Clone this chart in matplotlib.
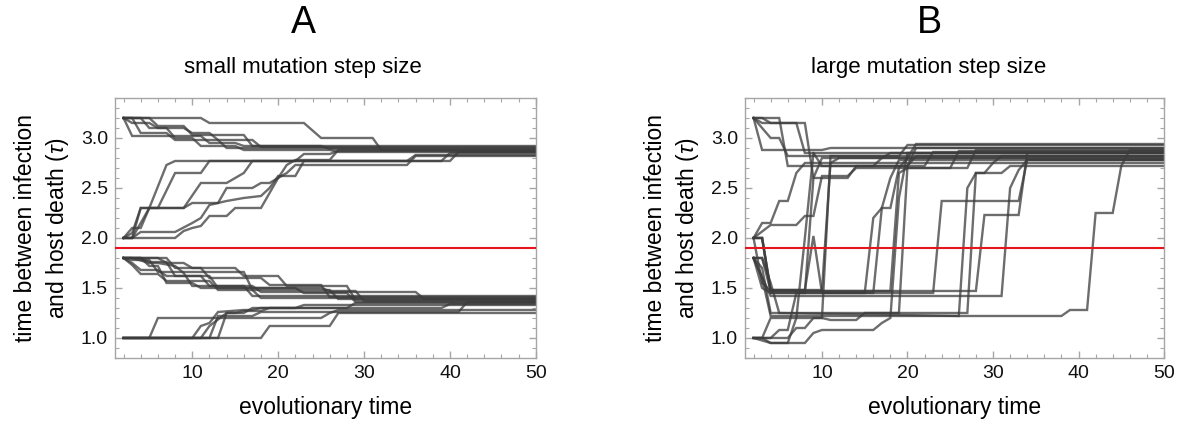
#! /usr/bin/env python
# -*- coding: utf-8 -*-
"""
Evolution of the time between infection and host death (tau)
for small and large mutation step sizes.
"""
# Importing Modules
import matplotlib
matplotlib.use('Agg')
import matplotlib.pyplot as plt
from matplotlib.ticker import MultipleLocator

## Data (time points, tau values)

# Panel A - small mutation step size
# runs starting at tau = 3.2
a_top_t = [[2, 11, 12, 23, 25, 31, 32, 50],
           [2, 3, 4, 7, 8, 13, 14, 50],
           [2, 3, 5, 6, 9, 10, 12, 13, 17, 18, 50],
           [2, 4, 5, 7, 8, 10, 11, 15, 16, 26, 27, 50],
           [2, 3, 11, 12, 15, 16, 25, 26, 50],
           [2, 5, 6, 9, 10, 16, 17, 50]]
a_top_y = [[3.2, 3.2, 3.15, 3.15, 3.0, 3.0, 2.88, 2.88],
           [3.2, 3.2, 3.05, 3.05, 2.98, 2.98, 2.9, 2.9],
           [3.2, 3.15, 3.15, 3.1, 3.1, 3.05, 3.05, 2.98, 2.98, 2.91, 2.91],
           [3.2, 3.2, 3.1, 3.1, 3.0, 3.0, 2.92, 2.92, 2.88, 2.88, 2.86, 2.86],
           [3.2, 3.02, 3.02, 2.95, 2.95, 2.92, 2.92, 2.89, 2.89],
           [3.2, 3.2, 3.12, 3.12, 3.03, 3.03, 2.92, 2.92]]
# runs starting at tau = 2.0
a_mid_t = [[2, 3, 4, 5, 7, 8, 22, 23, 26, 27, 50],
           [2, 3, 4, 6, 8, 11, 12, 35, 36, 50],
           [2, 3, 4, 9, 11, 14, 15, 16, 17, 40, 41, 50],
           [2, 8, 9, 10, 11, 12, 14, 15, 18, 19, 20, 21, 22, 35, 36, 50],
           [2, 3, 4, 8, 10, 11, 12, 14, 16, 18, 19, 20, 22, 23, 39, 40, 50],
           [2, 3, 5, 9, 10, 13, 14, 17, 18, 19, 20, 21, 22, 26, 27, 50]]
a_mid_y = [[2.0, 2.1, 2.1, 2.3, 2.73, 2.77, 2.77, 2.84, 2.84, 2.87, 2.87],
           [2.0, 2.0, 2.3, 2.3, 2.65, 2.65, 2.77, 2.77, 2.83, 2.83],
           [2.0, 2.05, 2.3, 2.3, 2.55, 2.55, 2.6, 2.65, 2.77, 2.77, 2.86, 2.86],
           [2.0, 2.0, 2.07, 2.1, 2.12, 2.22, 2.22, 2.3, 2.3, 2.45, 2.6, 2.65,
            2.73, 2.73, 2.82, 2.82],
           [2.0, 2.0, 2.06, 2.06, 2.15, 2.2, 2.33, 2.37, 2.4, 2.42, 2.5, 2.62,
            2.62, 2.77, 2.77, 2.85, 2.85],
           [2.0, 2.0, 2.3, 2.3, 2.35, 2.35, 2.5, 2.5, 2.55, 2.55, 2.6, 2.73,
            2.78, 2.78, 2.88, 2.88]]
# runs starting at tau = 1.8
a_low_t = [[2, 6, 7, 9, 10, 15, 16, 20, 21, 28, 29, 50],
           [2, 3, 4, 6, 7, 11, 12, 17, 18, 36, 37, 50],
           [2, 3, 5, 6, 8, 9, 10, 16, 17, 50],
           [2, 4, 5, 7, 8, 12, 13, 25, 26, 29, 30, 50],
           [2, 3, 4, 6, 7, 12, 13, 17, 18, 50],
           [2, 4, 5, 6, 7, 10, 11, 22, 23, 28, 29, 50],
           [2, 7, 8, 11, 12, 18, 19, 25, 26, 50],
           [2, 3, 5, 6, 16, 17, 26, 27, 50]]
a_low_y = [[1.8, 1.8, 1.75, 1.75, 1.7, 1.7, 1.62, 1.62, 1.52, 1.52, 1.38, 1.38],
           [1.8, 1.75, 1.68, 1.68, 1.62, 1.62, 1.52, 1.52, 1.46, 1.46, 1.39, 1.39],
           [1.8, 1.8, 1.75, 1.75, 1.72, 1.65, 1.52, 1.52, 1.42, 1.42],
           [1.8, 1.8, 1.76, 1.76, 1.62, 1.62, 1.5, 1.5, 1.47, 1.47, 1.37, 1.37],
           [1.8, 1.73, 1.64, 1.64, 1.57, 1.57, 1.48, 1.48, 1.4, 1.4],
           [1.8, 1.8, 1.72, 1.72, 1.55, 1.55, 1.5, 1.5, 1.45, 1.45, 1.36, 1.36],
           [1.8, 1.8, 1.7, 1.7, 1.6, 1.6, 1.53, 1.53, 1.41, 1.41],
           [1.8, 1.78, 1.78, 1.66, 1.66, 1.48, 1.48, 1.39, 1.39]]
# runs starting at tau = 1.0
a_base_t = [[2, 5, 6, 25, 26, 27, 50],
            [2, 10, 11, 12, 13, 16, 17, 18, 39, 40, 50],
            [2, 11, 12, 14, 15, 16, 17, 22, 23, 50],
            [2, 13, 14, 15, 16, 18, 19, 28, 29, 50],
            [2, 18, 19, 26, 27, 50],
            [2, 12, 13, 17, 18, 41, 42, 50]]
a_base_y = [[1.0, 1.0, 1.2, 1.2, 1.25, 1.28, 1.28],
            [1.0, 1.0, 1.12, 1.15, 1.26, 1.28, 1.28, 1.3, 1.3, 1.34, 1.34],
            [1.0, 1.0, 1.12, 1.25, 1.25, 1.25, 1.3, 1.3, 1.33, 1.33],
            [1.0, 1.0, 1.25, 1.25, 1.27, 1.27, 1.3, 1.3, 1.35, 1.35],
            [1.0, 1.0, 1.12, 1.12, 1.25, 1.25],
            [1.0, 1.0, 1.22, 1.22, 1.26, 1.26, 1.36, 1.36]]

# Panel B - large mutation step size
b_top_t = [[2, 3, 10, 11, 50],
           [2, 5, 6, 16, 17, 18, 50],
           [2, 3, 8, 9, 10, 13, 14, 20, 21, 50],
           [2, 3, 4, 5, 6, 19, 20, 50],
           [2, 3, 4, 7, 8, 9, 10, 22, 23, 50]]
b_top_y = [[3.2, 2.88, 2.88, 2.9, 2.9],
           [3.2, 3.2, 2.72, 2.72, 2.8, 2.85, 2.85],
           [3.2, 3.15, 3.15, 2.6, 2.6, 2.6, 2.72, 2.72, 2.82, 2.82],
           [3.2, 3.1, 3.0, 3.0, 2.82, 2.82, 2.93, 2.93],
           [3.2, 3.2, 3.15, 3.15, 2.85, 2.85, 2.72, 2.72, 2.86, 2.86]]
b_mid_t = [[2, 3, 4, 10, 11, 12, 20, 21, 50],
           [2, 3, 4, 5, 6, 7, 8, 30, 31, 50],
           [2, 4, 7, 8, 9, 10, 13, 14, 25, 26, 50],
           [2, 3, 4, 8, 9, 10, 16, 17, 18, 19, 20, 50],
           [2, 3, 4, 18, 19, 20, 27, 28, 50],
           [2, 3, 4, 23, 24, 33, 34, 50]]
b_mid_y = [[2.0, 2.0, 1.48, 1.48, 2.75, 2.8, 2.8, 2.94, 2.94],
           [2.0, 2.15, 2.15, 2.37, 2.37, 2.65, 2.75, 2.75, 2.82, 2.82],
           [2.0, 2.13, 2.13, 2.22, 2.22, 2.62, 2.62, 2.7, 2.7, 2.87, 2.87],
           [2.0, 2.0, 1.48, 1.48, 2.02, 1.45, 1.45, 2.3, 2.3, 2.7, 2.8, 2.8],
           [2.0, 1.55, 1.47, 1.47, 2.65, 2.7, 2.7, 2.88, 2.88],
           [2.0, 2.0, 1.45, 1.45, 2.37, 2.37, 2.78, 2.78]]
b_low_t = [[2, 3, 4, 5, 26, 27, 28, 29, 30, 50],
           [2, 3, 4, 27, 28, 31, 32, 50],
           [2, 3, 4, 28, 29, 33, 34, 50],
           [2, 4, 31, 32, 33, 34, 50],
           [2, 3, 4, 38, 39, 41, 42, 44, 45, 46, 50],
           [2, 3, 4, 15, 16, 17, 18, 19, 50]]
b_low_y = [[1.8, 1.8, 1.55, 1.25, 1.22, 2.5, 2.65, 2.65, 2.75, 2.75],
           [1.8, 1.7, 1.25, 1.25, 2.65, 2.65, 2.72, 2.72],
           [1.8, 1.8, 1.47, 1.47, 2.23, 2.23, 2.85, 2.85],
           [1.8, 1.42, 1.42, 2.5, 2.68, 2.78, 2.78],
           [1.8, 1.6, 1.22, 1.22, 1.28, 1.28, 2.25, 2.25, 2.72, 2.88, 2.88],
           [1.8, 1.5, 1.45, 1.45, 2.2, 2.3, 2.6, 2.78, 2.78]]
b_base_t = [[2, 3, 4, 6, 7, 8, 9, 50],
            [2, 4, 5, 6, 7, 8, 9, 10, 50],
            [2, 6, 7, 8, 9, 10, 11, 50],
            [2, 3, 4, 10, 11, 14, 15, 19, 20, 21, 50],
            [2, 4, 8, 9, 10, 16, 17, 18, 19, 20, 50]]
b_base_y = [[1.0, 1.0, 0.95, 0.95, 1.2, 2.0, 2.85, 2.85],
            [1.0, 1.0, 1.08, 1.08, 1.45, 1.45, 2.6, 2.8, 2.8],
            [1.0, 1.0, 1.1, 1.1, 1.2, 1.2, 2.82, 2.82],
            [1.0, 1.0, 1.2, 1.2, 1.18, 1.18, 1.25, 1.25, 2.72, 2.9, 2.9],
            [1.0, 0.95, 0.95, 1.05, 1.08, 1.08, 1.15, 1.2, 2.4, 2.85, 2.85]]

# Threshold line
tau_threshold = 1.9

panel_letters = ['A', 'B']
panel_titles  = ['small mutation step size', 'large mutation step size']


def setup_axis(ax):
    """
    Mathematica-like frame for one panel

    Parameters
    -----------
    ax : `matplotlib.axes.Axes`
        Axis to style
    """
    ax.set_xlim(1, 50)
    ax.set_ylim(0.8, 3.4)
    ax.set_xticks([10, 20, 30, 40, 50])
    ax.xaxis.set_minor_locator(MultipleLocator(2))
    ax.set_yticks([1.0, 1.5, 2.0, 2.5, 3.0])
    ax.set_yticklabels(['1.0', '1.5', '2.0', '2.5', '3.0'])
    ax.yaxis.set_minor_locator(MultipleLocator(0.1))
    for side in ax.spines:
        ax.spines[side].set_color('#a6a6a6')
        ax.spines[side].set_linewidth(1.0)
    ax.tick_params(which='both', direction='in', top=True, right=True,
                   color='#a6a6a6', labelsize=14, labelcolor='#111111')
    ax.tick_params(which='major', length=5, width=1.0, pad=5)
    ax.tick_params(which='minor', length=3, width=0.8)
    # Axis labels
    ax.set_xlabel('evolutionary time', fontsize=16.5, va='center')
    ax.xaxis.set_label_coords(0.5, -0.19)
    ax.set_ylabel('time between infection\nand host death ($\\tau$)',
                  fontsize=16.5, va='center', linespacing=1.35)
    ax.yaxis.set_label_coords(-0.172, 0.5)


def plot_runs(ax, times, values):
    """
    Plots every run of one group as a gray line
    """
    for t, y in zip(times, values):
        ax.plot(t, y, color='#3c3c3c', alpha=0.75, lw=1.7,
                solid_joinstyle='miter', zorder=2)


def main():
    """
    Main function
    """
    plt.rcParams['font.family'] = ['Liberation Sans', 'DejaVu Sans']
    plt.rcParams['mathtext.fontset'] = 'custom'
    plt.rcParams['mathtext.it'] = 'Liberation Sans:italic'
    plt.rcParams['mathtext.rm'] = 'Liberation Sans'
    #
    # Initializing figure
    fig = plt.figure(figsize=(11.79, 4.24), dpi=100)
    ax_a = fig.add_axes([0.0975, 0.1557, 0.357, 0.6132])
    ax_b = fig.add_axes([0.6319, 0.1557, 0.3554, 0.6132])
    #
    # Panel A
    for times, values in [(a_top_t, a_top_y), (a_mid_t, a_mid_y),
                          (a_low_t, a_low_y), (a_base_t, a_base_y)]:
        plot_runs(ax_a, times, values)
    # Panel B
    for times, values in [(b_top_t, b_top_y), (b_mid_t, b_mid_y),
                          (b_low_t, b_low_y), (b_base_t, b_base_y)]:
        plot_runs(ax_b, times, values)
    #
    # Threshold and frame
    for ax in [ax_a, ax_b]:
        ax.axhline(tau_threshold, color='#e8141c', lw=1.5, zorder=3)
        setup_axis(ax)
    #
    # Panel letters and titles
    for x_c, letter, title in zip([0.257, 0.788], panel_letters, panel_titles):
        fig.text(x_c, 0.945, letter, fontsize=27, ha='center', va='center')
        fig.text(x_c, 0.840, title, fontsize=16, ha='center', va='center')
    #
    # Saving figure
    fig.savefig('out.png', dpi=100)


# Main function
if __name__ == '__main__':
    main()
